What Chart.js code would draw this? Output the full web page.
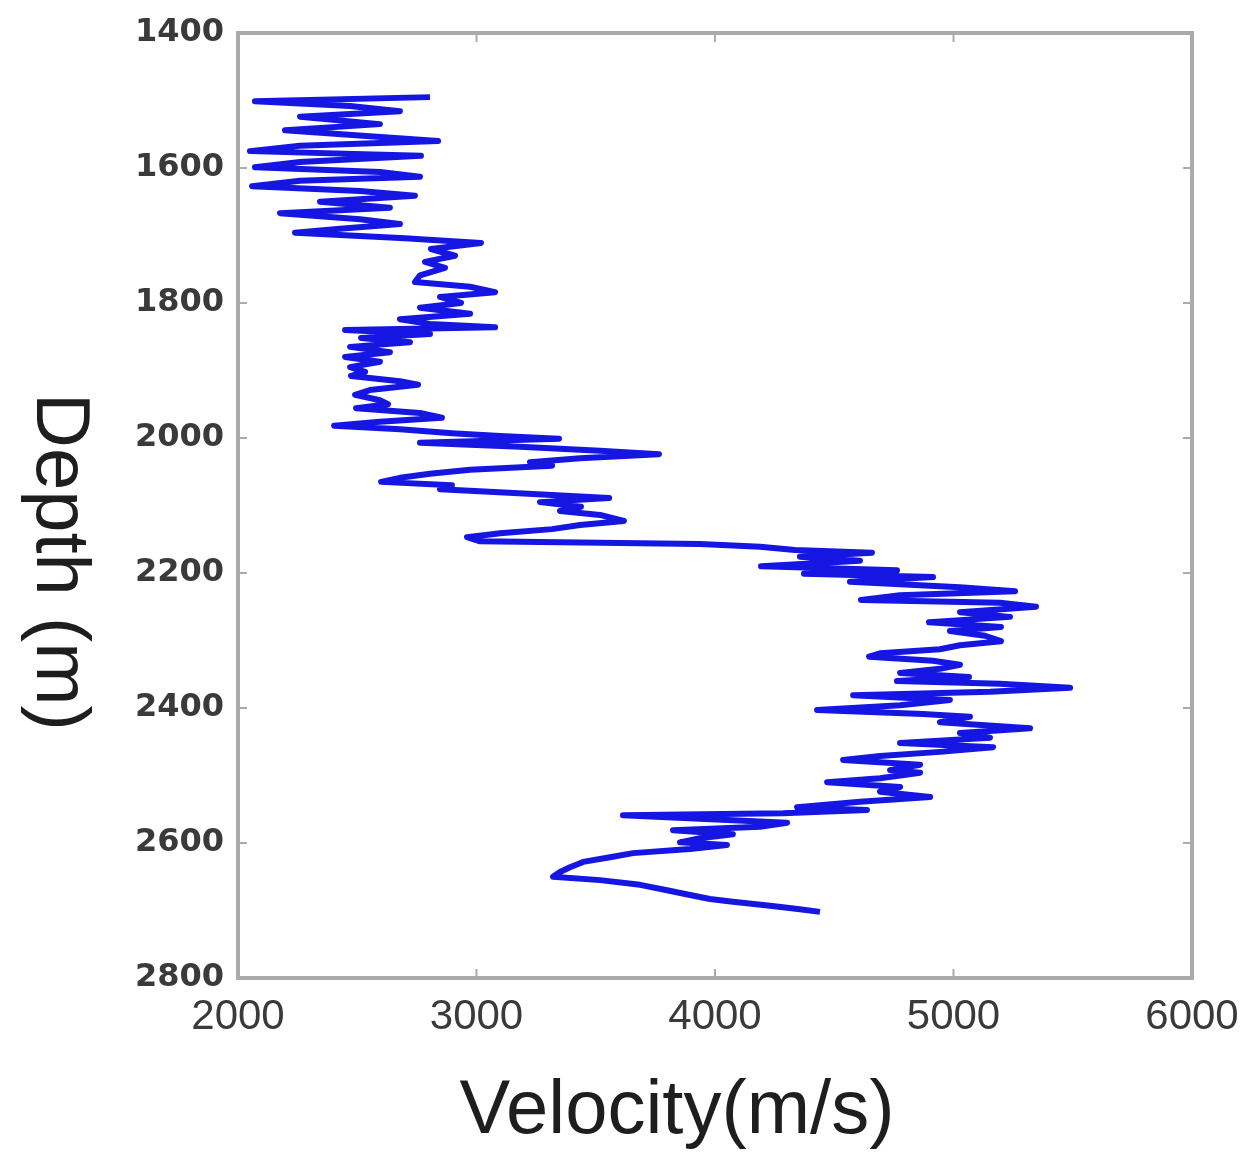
<!DOCTYPE html>
<html lang="en">
<head>
<meta charset="UTF-8">
<title>Velocity vs Depth</title>
<script src="https://cdn.jsdelivr.net/npm/chart.js"></script>
<style>
    body { margin: 0; background: #fff; }
    #wrap { width: 1247px; height: 1165px; }
</style>
</head>
<body>
<div id="wrap"><canvas id="logChart" width="1247" height="1165"></canvas></div>
<script>
const depth = [
    1495, 1501, 1508, 1516, 1524, 1535, 1544, 1553, 1560, 1567, 1575, 1582, 1591, 1599, 1606,
    1613, 1619, 1627, 1634, 1641, 1650, 1659, 1667, 1676, 1683, 1690, 1696, 1704, 1711,
    1720, 1730, 1739, 1748, 1759, 1769, 1776, 1784, 1791, 1800, 1807, 1816, 1824, 1831, 1836,
    1840, 1846, 1852, 1858, 1865, 1873, 1880, 1887, 1895, 1902, 1908, 1916, 1921, 1929,
    1936, 1944, 1950, 1956, 1963, 1970, 1976, 1982, 1987, 1993, 1997, 2001, 2007, 2013, 2019,
    2024, 2030, 2036, 2041, 2047, 2053, 2059, 2065, 2070, 2076, 2081, 2089, 2095, 2102, 2108,
    2114, 2123, 2129, 2135, 2141, 2147, 2153, 2157, 2161, 2166, 2170, 2176, 2182, 2190, 2196,
    2201, 2206, 2213, 2221, 2227, 2233, 2240, 2244, 2250, 2258, 2265, 2273, 2280, 2286, 2293,
    2301, 2307, 2313, 2319, 2324, 2330, 2336, 2342, 2348, 2354, 2360, 2364, 2370, 2376, 2381, 2388,
    2396, 2403, 2409, 2413, 2421, 2430, 2437, 2444, 2452, 2458, 2465, 2471, 2477, 2484, 2492,
    2496, 2504, 2510, 2517, 2524, 2532, 2539, 2547, 2551, 2556, 2559, 2564, 2570, 2576, 2581,
    2587, 2593, 2599, 2603, 2609, 2615, 2621, 2628, 2636, 2643, 2650, 2655, 2662, 2670, 2677,
    2683, 2687, 2693, 2698, 2702
];
const velocity = [
    2805, 2071, 2470, 2679, 2260, 2595, 2197, 2553, 2839, 2260, 2050, 2767, 2260, 2071, 2595,
    2763, 2260, 2059, 2512, 2742, 2344, 2637, 2176, 2512, 2679, 2428, 2239, 2700, 3019,
    2809, 2910, 2784, 2868, 2763, 2742, 2973, 3078, 2847, 2935, 2763, 2973, 2679, 2805, 3078,
    2449, 2805, 2516, 2721, 2470, 2637, 2449, 2595, 2470, 2533, 2474, 2679, 2755, 2553,
    2491, 2595, 2629, 2495, 2763, 2855, 2595, 2403, 2679, 2897, 3099, 3346, 2763, 3182, 3518,
    3765, 3434, 3224, 3317, 2973, 2805, 2679, 2600, 2897, 2847, 3136, 3556, 3266, 3438, 3350,
    3518, 3618, 3434, 3317, 3099, 2960, 3015, 3937, 4189, 4335, 4658, 4356, 4608, 4193, 4763,
    4373, 4914, 4566, 5027, 5258, 4776, 4612, 5195, 5346, 5027, 5237, 4897, 5199, 4985, 5132,
    5199, 5027, 4943, 4692, 4646, 4914, 5027, 4943, 4776, 5065, 4763, 5195, 5489, 5153, 4579, 4985,
    4776, 4428, 4872, 5069, 4943, 5321, 5027, 5153, 4776, 5166, 4943, 4692, 4537, 4860, 4734,
    4860, 4692, 4470, 4776, 4692, 4902, 4608, 4344, 4637, 4285, 3614, 3937, 4302, 4189, 3824,
    4075, 3937, 3853, 4050, 3895, 3656, 3560, 3447, 3392, 3350, 3321, 3518, 3686, 3799, 3895,
    3979, 4075, 4231, 4356, 4440
];
const xTicks = [2000, 3000, 4000, 5000, 6000];
const yTicks = [1400, 1600, 1800, 2000, 2200, 2400, 2600, 2800];
const xTitle = 'Velocity(m/s)';
const yTitle = 'Depth (m)';

const points = depth.map((d, i) => ({ x: velocity[i], y: d }));

// box round the plot, inward ticks and the two axis titles
const framePlugin = {
    id: 'frame',
    afterDraw(chart) {
        const { ctx, chartArea: a, scales } = chart;
        ctx.save();
        ctx.strokeStyle = '#ababab';
        ctx.lineWidth = 4;
        ctx.strokeRect(a.left, a.top, a.right - a.left, a.bottom - a.top);
        ctx.lineWidth = 2;
        ctx.beginPath();
        xTicks.slice(1, -1).forEach(v => {
            const px = scales.x.getPixelForValue(v);
            ctx.moveTo(px, a.bottom); ctx.lineTo(px, a.bottom - 9);
            ctx.moveTo(px, a.top); ctx.lineTo(px, a.top + 9);
        });
        yTicks.slice(1, -1).forEach(v => {
            const py = scales.y.getPixelForValue(v);
            ctx.moveTo(a.left, py); ctx.lineTo(a.left + 9, py);
            ctx.moveTo(a.right, py); ctx.lineTo(a.right - 9, py);
        });
        ctx.stroke();

        ctx.fillStyle = '#1e1e1e';
        ctx.font = '76px "Liberation Sans", Arial, sans-serif';
        ctx.textAlign = 'center';
        ctx.textBaseline = 'middle';
        ctx.fillText(xTitle, 677, 1112);
        ctx.translate(58, 562);
        ctx.rotate(Math.PI / 2);
        ctx.fillText(yTitle, 0, 0);
        ctx.restore();
    }
};

new Chart(document.getElementById('logChart'), {
    type: 'scatter',
    data: {
        datasets: [{
            data: points,
            showLine: true,
            borderColor: 'rgb(22, 22, 226)',
            borderWidth: 6,
            borderJoinStyle: 'round',
            pointRadius: 0,
            tension: 0
        }]
    },
    options: {
        responsive: false,
        animation: false,
        layout: { padding: { left: 0, top: 33, right: 55, bottom: 0 } },
        plugins: { legend: { display: false }, tooltip: { enabled: false } },
        scales: {
            x: {
                type: 'linear',
                min: 2000,
                max: 6000,
                afterBuildTicks: s => { s.ticks = xTicks.map(v => ({ value: v })); },
                afterFit: s => { s.height = 187; },
                grid: { display: false },
                border: { display: false },
                ticks: {
                    padding: 6,
                    color: '#3a3a3a',
                    font: { family: '"Liberation Sans", Arial', size: 42 },
                    callback: v => String(v)
                }
            },
            y: {
                type: 'linear',
                reverse: true,
                min: 1400,
                max: 2800,
                afterBuildTicks: s => { s.ticks = yTicks.map(v => ({ value: v })); },
                afterFit: s => { s.width = 238; },
                grid: { display: false },
                border: { display: false },
                ticks: {
                    padding: 6,
                    color: '#3a3a3a',
                    font: { family: '"DejaVu Sans"', size: 32, weight: 'bold' },
                    callback: v => String(v)
                }
            }
        }
    },
    plugins: [framePlugin]
});
</script>
</body>
</html>
